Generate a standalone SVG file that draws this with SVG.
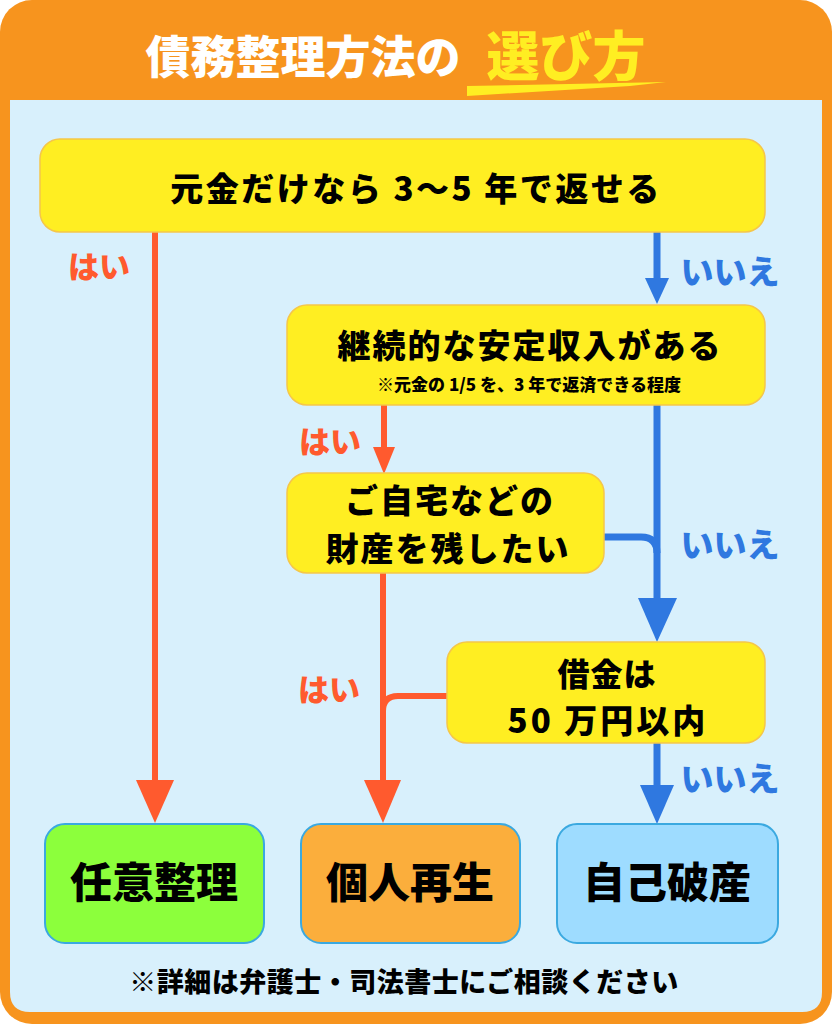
<svg xmlns="http://www.w3.org/2000/svg" width="832" height="1024" viewBox="0 0 832 1024">
<defs>
<style>
.t{font-family:"Noto Sans CJK JP","Noto Sans",sans-serif;font-weight:900;text-anchor:middle}
.q{fill:#FFEE22;stroke:#F5C64A;stroke-width:1.5}
.r{fill:none;stroke:#FF5A2E;stroke-width:6}
.b{fill:none;stroke:#2F78E0;stroke-width:7}
.rh{fill:#FF5A2E}
.bh{fill:#2F78E0}
.res{stroke:#3BA9E0;stroke-width:2}
.yes{fill:#FF5A2E;font-size:31px}
.no{fill:#2F78E0;font-size:33px}
</style>
</defs>
<rect x="0" y="0" width="832" height="1024" rx="32" fill="#F7941E"/>
<path d="M10 100 H822 V992 Q822 1012 802 1012 H30 Q10 1012 10 992 Z" fill="#D8F0FC"/>
<g id="title">
<text class="t" x="303" y="74" font-size="45" fill="#FFFFFF">債務整理方法の</text>
<text class="t" x="566" y="76" font-size="53" fill="#FFEE22">選び方</text>
<polygon points="467,86 666,82 630,86 467,96" fill="#FFEE22"/>
</g>
<g id="connectors">
<line class="r" x1="155" y1="232" x2="155" y2="782"/>
<polygon class="rh" points="136,780 174,780 155,823"/>
<line class="b" x1="657" y1="232" x2="657" y2="280"/>
<polygon class="bh" points="645,278 669,278 657,304"/>
<line class="r" x1="384" y1="405" x2="384" y2="449"/>
<polygon class="rh" points="373,447 395,447 384,474"/>
<line class="b" x1="657" y1="405" x2="657" y2="600"/>
<path class="b" d="M604 537 H641 Q657 537 657 553"/>
<polygon class="bh" points="638,598 677,598 657,642"/>
<line class="r" x1="383" y1="573" x2="383" y2="782"/>
<path class="r" d="M447 696 H398 Q383 696 383 711"/>
<polygon class="rh" points="364,780 401,780 383,823"/>
<line class="b" x1="657" y1="743" x2="657" y2="787"/>
<polygon class="bh" points="640,785 674,785 657,824"/>
<text class="t yes" x="99" y="278">はい</text>
<text class="t yes" x="330" y="453">はい</text>
<text class="t yes" x="329" y="701">はい</text>
<text class="t no" x="730" y="284">いいえ</text>
<text class="t no" x="730" y="557">いいえ</text>
<text class="t no" x="730" y="791">いいえ</text>
</g>
<g id="q1">
<rect class="q" x="40" y="139" width="725" height="93" rx="20"/>
<text class="t" x="416" y="201" font-size="33" letter-spacing="2.5">元金だけなら 3〜5 年で返せる</text>
</g>
<g id="q2">
<rect class="q" x="287" y="305" width="478" height="100" rx="20"/>
<text class="t" x="530" y="358" font-size="33" letter-spacing="2">継続的な安定収入がある</text>
<text class="t" x="529" y="391" font-size="17">※元金の 1/5 を、3 年で返済できる程度</text>
</g>
<g id="q3">
<rect class="q" x="287" y="473" width="317" height="100" rx="20"/>
<text class="t" x="450" y="513" font-size="33" letter-spacing="2">ご自宅などの</text>
<text class="t" x="448" y="561" font-size="33" letter-spacing="2">財産を残したい</text>
</g>
<g id="q4">
<rect class="q" x="447" y="642" width="318" height="101" rx="20"/>
<text class="t" x="607" y="686" font-size="32" letter-spacing="1">借金は</text>
<text class="t" x="608" y="733" font-size="33" letter-spacing="3">50 万円以内</text>
</g>
<g id="r1">
<rect class="res" x="45" y="824" width="219" height="119" rx="20" fill="#8CFF3C"/>
<text class="t" x="154" y="898" font-size="42">任意整理</text>
</g>
<g id="r2">
<rect class="res" x="301" y="824" width="219" height="119" rx="20" fill="#FBAE3C"/>
<text class="t" x="410" y="898" font-size="42">個人再生</text>
</g>
<g id="r3">
<rect class="res" x="557" y="824" width="221" height="119" rx="20" fill="#9EDCFF"/>
<text class="t" x="667" y="898" font-size="42">自己破産</text>
</g>
<g id="footer">
<text class="t" x="404" y="992" font-size="27" letter-spacing="0.5">※詳細は弁護士・司法書士にご相談ください</text>
</g>
</svg>
